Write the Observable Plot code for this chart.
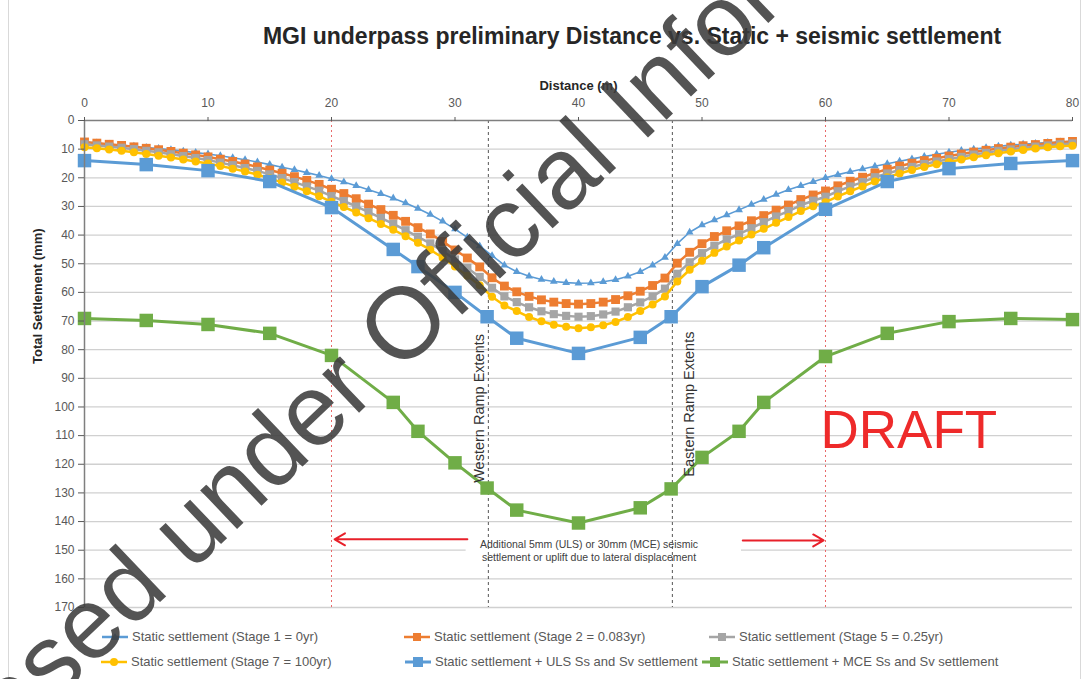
<!DOCTYPE html>
<html><head><meta charset="utf-8">
<script src="https://cdn.jsdelivr.net/npm/d3@7"></script>
<script src="https://cdn.jsdelivr.net/npm/@observablehq/plot@0.6"></script>
<style>
html,body{margin:0;padding:0;background:#fff;}
#wrap{position:relative;width:1088px;height:679px;overflow:hidden;font-family:'Liberation Sans',Arial,sans-serif;background:#fff;}
#title{position:absolute;top:25px;left:632px;transform:translateX(-50%);font-weight:bold;font-size:23px;line-height:23px;color:#262626;white-space:nowrap;}
#chart{position:absolute;left:0;top:0;}
.leg{position:absolute;display:flex;align-items:center;font-size:13px;color:#595959;white-space:nowrap;height:16px;line-height:16px;}
.leg svg{margin-right:3px;}
#frame{position:absolute;left:8px;top:0;width:1073px;height:679px;border-left:1px solid #d9d9d9;border-right:1px solid #d9d9d9;box-sizing:border-box;}
#wm{position:absolute;left:0;top:0;pointer-events:none;}
</style></head>
<body>
<div id="wrap">
  <div id="frame"></div>
  <div id="chart"></div>
  <div id="title">MGI underpass preliminary Distance vs. Static + seismic settlement</div>
  <div id="legend"></div>
  <svg id="wm" width="1088" height="679"><text transform="translate(-138,886) rotate(-43.6)" font-family="'Liberation Sans',Arial,sans-serif" font-size="101" fill="#3c3c3c" fill-opacity="0.88">Released under Official Information Act</text></svg>
</div>
<script>
// ---------- data ----------
const distance = [0,1,2,3,4,5,6,7,8,9,10,11,12,13,14,15,16,17,18,19,20,21,22,23,24,25,26,27,28,29,30,31,32,33,34,35,36,37,38,39,40,41,42,43,44,45,46,47,48,49,50,51,52,53,54,55,56,57,58,59,60,61,62,63,64,65,66,67,68,69,70,71,72,73,74,75,76,77,78,79,80];

const stage1 = [7.5,7.9,8.3,8.7,9.0,9.4,9.8,10.2,10.7,11.2,
 11.7,12.3,13.0,13.7,14.5,15.4,16.3,17.2,18.2,19.2,
 20.3,21.5,22.8,24.2,25.6,27.1,28.8,30.7,32.8,35.2,
 37.9,40.8,43.8,47.2,50.5,52.8,54.4,55.5,56.2,56.6,
 56.8,56.7,56.3,55.6,54.4,52.8,50.5,47.8,43.0,39.0,
 36.5,34.7,33.0,31.2,29.3,27.6,25.8,24.2,22.8,21.4,
 20.0,18.9,17.9,16.9,16.0,15.1,14.2,13.4,12.6,11.8,
 11.1,10.5,10.0,9.5,9.0,8.6,8.3,8.0,7.7,7.5,
 7.3];

const stage2 = [7.5,7.9,8.3,8.7,9.2,9.7,10.2,10.8,11.4,12.0,
 12.7,13.5,14.3,15.2,16.2,17.3,18.4,19.6,20.9,22.3,
 24.0,25.5,27.3,29.2,31.1,33.1,35.2,37.4,39.6,42.2,
 45.2,48.0,51.1,54.9,57.8,59.8,61.4,62.6,63.4,63.9,
 64.1,63.9,63.4,62.5,61.2,59.6,57.6,55.0,49.8,46.0,
 43.0,40.5,38.5,36.8,35.0,33.2,31.3,29.5,27.6,26.0,
 24.6,22.8,21.2,19.8,18.3,17.0,15.9,14.9,14.0,13.2,
 12.4,11.7,11.0,10.4,9.8,9.3,8.8,8.4,8.0,7.6,
 7.3];

const stage5 = [8.3,8.7,9.1,9.5,10.0,10.6,11.1,11.8,12.4,13.1,
 13.8,14.7,15.6,16.6,17.6,18.8,20.1,21.5,23.0,24.5,
 26.4,28.1,30.0,32.0,34.0,36.1,38.3,40.6,42.9,45.6,
 48.5,51.5,54.6,58.4,61.4,63.4,65.2,66.6,67.6,68.2,
 68.5,68.3,67.7,66.7,65.2,63.5,61.4,58.7,53.5,49.5,
 46.3,43.7,41.5,39.7,37.6,35.5,33.5,31.6,29.6,28.0,
 26.6,24.7,23.0,21.5,19.8,18.5,17.3,16.2,15.2,14.3,
 13.5,12.7,11.9,11.3,10.6,10.1,9.6,9.1,8.7,8.3,
 8.0];

const stage7 = [9.3,9.7,10.1,10.6,11.1,11.7,12.3,12.9,13.6,14.3,
 15.0,15.9,16.8,17.8,18.9,20.2,21.6,23.1,24.7,26.4,
 28.4,30.2,32.1,34.1,36.1,38.1,40.4,42.7,45.1,47.9,
 51.0,54.2,57.5,61.5,64.6,66.5,68.6,70.1,71.3,72.0,
 72.5,72.2,71.5,70.3,68.6,66.5,64.2,61.4,56.2,52.1,
 49.0,46.2,44.0,41.9,39.8,37.8,35.7,33.7,31.6,29.9,
 28.5,26.5,24.7,23.0,21.3,19.8,18.5,17.3,16.2,15.3,
 14.5,13.6,12.8,12.1,11.4,10.8,10.3,9.8,9.3,9.0,
 8.8];

const seismicX = [0,5,10,15,20,25,27,30,32.6,35,40,45,47.5,50,53,55,60,65,70,75,80];
const ulsSettlement = [14.0,15.4,17.5,21.3,30.4,45.0,51.0,60.0,68.5,76.0,81.3,75.7,68.5,58.0,50.5,44.4,31.0,21.3,16.8,15.0,14.0];
const mceSettlement = [69.1,69.8,71.2,74.3,82.0,98.4,108.5,119.5,128.3,136.0,140.5,135.2,128.6,117.6,108.5,98.4,82.4,74.3,70.2,69.1,69.5];

const xTicks = [0,10,20,30,40,50,60,70,80];
const yTicks = [0,10,20,30,40,50,60,70,80,90,100,110,120,130,140,150,160,170];

const seriesNames = [
  "Static settlement (Stage 1 = 0yr)",
  "Static settlement (Stage 2 = 0.083yr)",
  "Static settlement (Stage 5 = 0.25yr)",
  "Static settlement (Stage 7 = 100yr)",
  "Static settlement + ULS Ss and Sv settlement",
  "Static settlement + MCE Ss and Sv settlement"
];
const seriesColors = ["#5b9bd5","#ed7d31","#a5a5a5","#ffc000","#5b9bd5","#70ad47"];

const boundaryX = [20, 60];        // red dotted limits
const rampExtentX = [32.7, 47.6];  // ramp extents
const rampLabels = [
  {x: 31.95, y: 100.5, text: "Western Ramp Extents"},
  {x: 48.95, y: 99.0, text: "Eastern Ramp Extents"}
];
const noteText = "Additional 5mm (ULS) or 30mm (MCE) seismic\nsettlement or uplift due to lateral displacement";
const note = [{x: 40.85, y: 150.0, text: noteText}];
const noteBox = [{x1: 30.9, x2: 53.2, y1: 143.3, y2: 155.8}];
const arrows = [
  {x1: 31.0, y1: 146.2, x2: 20.25, y2: 146.2},
  {x1: 53.3, y1: 146.6, x2: 59.85, y2: 146.6}
];
const draft = [{x: 59.6, y: 108.4, text: "DRAFT"}];

// ---------- build ----------
const rows = (xs, ys) => xs.map((x, i) => ({x, y: ys[i]}));
const s1 = rows(distance, stage1), s2 = rows(distance, stage2), s5 = rows(distance, stage5), s7 = rows(distance, stage7);
const sU = rows(seismicX, ulsSettlement), sM = rows(seismicX, mceSettlement);

const chart = Plot.plot({
  width: 1088, height: 620,
  marginTop: 120, marginLeft: 84, marginRight: 16, marginBottom: 13,
  style: {fontFamily: "'Liberation Sans', Arial, sans-serif", fontSize: "12px", background: "transparent", overflow: "visible"},
  x: {domain: [0, 80]},
  y: {domain: [0, 170], reverse: true},
  marks: [
    Plot.gridY(yTicks.slice(1), {stroke: "#d0d0d0", strokeOpacity: 1, strokeWidth: 1.3}),
    Plot.rect(noteBox, {x1: "x1", x2: "x2", y1: "y1", y2: "y2", fill: "white"}),
    Plot.ruleX(boundaryX, {stroke: "#e86a6a", strokeWidth: 1, strokeDasharray: "2,3"}),
    Plot.ruleX(rampExtentX, {stroke: "#555555", strokeWidth: 1, strokeDasharray: "3,3"}),
    // series
    Plot.line(s1, {x: "x", y: "y", stroke: seriesColors[0], strokeWidth: 1.6}),
    Plot.dot(s1, {x: "x", y: "y", symbol: "triangle", r: 2.9, fill: seriesColors[0], stroke: "none"}),
    Plot.line(s2, {x: "x", y: "y", stroke: seriesColors[1], strokeWidth: 2.5}),
    Plot.dot(s2, {x: "x", y: "y", symbol: "square", r: 5.0, fill: seriesColors[1], stroke: "none"}),
    Plot.line(s5, {x: "x", y: "y", stroke: seriesColors[2], strokeWidth: 2.5}),
    Plot.dot(s5, {x: "x", y: "y", symbol: "square", r: 4.6, fill: seriesColors[2], stroke: "none"}),
    Plot.line(s7, {x: "x", y: "y", stroke: seriesColors[3], strokeWidth: 2.5}),
    Plot.dot(s7, {x: "x", y: "y", symbol: "circle", r: 4.0, fill: seriesColors[3], stroke: "none"}),
    Plot.line(sU, {x: "x", y: "y", stroke: seriesColors[4], strokeWidth: 3}),
    Plot.dot(sU, {x: "x", y: "y", symbol: "square", r: 7.6, fill: seriesColors[4], stroke: "none"}),
    Plot.line(sM, {x: "x", y: "y", stroke: seriesColors[5], strokeWidth: 3}),
    Plot.dot(sM, {x: "x", y: "y", symbol: "square", r: 7.6, fill: seriesColors[5], stroke: "none"}),
    // annotations
    Plot.text(rampLabels, {x: "x", y: "y", text: "text", rotate: -90, fontSize: 14.5, fill: "#333333", lineAnchor: "middle"}),
    Plot.text(note, {x: "x", y: "y", text: "text", fontSize: 10.5, fill: "#404040", lineHeight: 1.3, lineAnchor: "middle"}),
    Plot.arrow(arrows, {x1: "x1", y1: "y1", x2: "x2", y2: "y2", stroke: "#e8202a", strokeWidth: 2, headLength: 9}),
    Plot.text(draft, {x: "x", y: "y", text: "text", fontSize: 53, fill: "#ee2a2a", textAnchor: "start", lineAnchor: "middle"}),
    // axes
    Plot.ruleY([0], {stroke: "#7f7f7f", strokeWidth: 1.5}),
    Plot.ruleX([0], {stroke: "#7f7f7f", strokeWidth: 1.5}),
    Plot.axisX(xTicks, {anchor: "top", tickSize: 4, tickPadding: 10, label: null, fontSize: 12, color: "#595959"}),
    Plot.axisY(yTicks, {anchor: "left", tickSize: 6, tickPadding: 4, label: null, fontSize: 12, color: "#595959"}),
    Plot.text(["Distance (m)"], {frameAnchor: "top", dy: -40, fontSize: 13, fontWeight: "bold", fill: "#262626"}),
    Plot.text(["Total Settlement (mm)"], {frameAnchor: "left", dx: -47, rotate: -90, fontSize: 13, fontWeight: "bold", fill: "#262626"})
  ]
});
document.getElementById("chart").appendChild(chart);

// ---------- legend ----------
const legendSymbols = ["triangle","square","square","circle","bigsquare","bigsquare"];
const legendPos = [[101,637],[403,637],[708,637],[100,662],[404,662],[701,662]];
const legend = document.getElementById("legend");
seriesNames.forEach((name, i) => {
  const c = seriesColors[i];
  let mk = "";
  const sym = legendSymbols[i];
  if (sym === "triangle") mk = `<path d="M14,3 L18,10 L10,10 Z" fill="${c}"/>`;
  else if (sym === "square") mk = `<rect x="10" y="3" width="8" height="8" fill="${c}"/>`;
  else if (sym === "circle") mk = `<circle cx="14" cy="7" r="4" fill="${c}"/>`;
  else mk = `<rect x="9" y="2" width="10" height="10" fill="${c}"/>`;
  const lw = sym === "bigsquare" ? 3 : 2.5;
  const div = document.createElement("div");
  div.className = "leg";
  div.style.left = legendPos[i][0] + "px";
  div.style.top = (legendPos[i][1] - 8) + "px";
  div.innerHTML = `<svg width="28" height="14"><line x1="1" x2="27" y1="7" y2="7" stroke="${c}" stroke-width="${lw}"/>${mk}</svg><span>${name}</span>`;
  legend.appendChild(div);
});
</script>
</body></html>
